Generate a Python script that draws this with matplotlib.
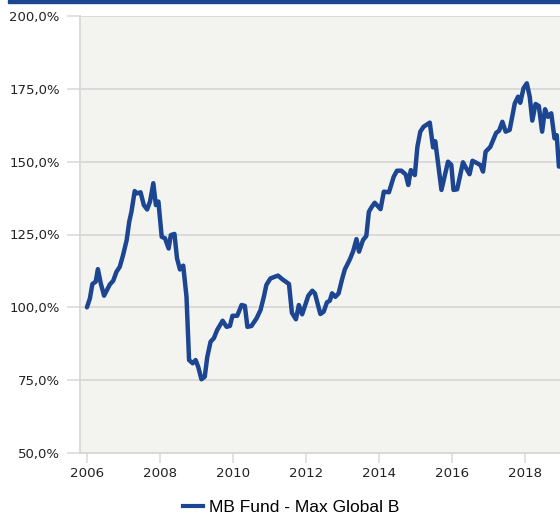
import matplotlib
matplotlib.use("Agg")
import matplotlib.pyplot as plt
from matplotlib.lines import Line2D
from matplotlib.patches import Rectangle

# ── Data ─────────────────────────────────────────────────────────────────────

years = [
    2006.00, 2006.08, 2006.15, 2006.24, 2006.30, 2006.38, 2006.47, 2006.63,
    2006.72, 2006.81, 2006.90, 2006.99, 2007.09, 2007.16, 2007.22, 2007.31,
    2007.38, 2007.47, 2007.56, 2007.65, 2007.73, 2007.82, 2007.89, 2007.96,
    2008.05, 2008.14, 2008.24, 2008.30, 2008.40, 2008.47, 2008.55, 2008.64,
    2008.73, 2008.80, 2008.90, 2008.98, 2009.05, 2009.14, 2009.23, 2009.30,
    2009.39, 2009.48, 2009.57, 2009.72, 2009.83, 2009.92, 2009.99, 2010.12,
    2010.24, 2010.33, 2010.40, 2010.51, 2010.65, 2010.76, 2010.85, 2010.92,
    2011.03, 2011.15, 2011.24, 2011.36, 2011.54, 2011.62, 2011.73, 2011.81,
    2011.90, 2011.99, 2012.07, 2012.18, 2012.25, 2012.40, 2012.49, 2012.58,
    2012.66, 2012.72, 2012.81, 2012.90, 2012.99, 2013.07, 2013.21, 2013.30,
    2013.39, 2013.46, 2013.57, 2013.66, 2013.73, 2013.80, 2013.89, 2014.05,
    2014.14, 2014.28, 2014.41, 2014.50, 2014.62, 2014.74, 2014.81, 2014.88,
    2014.99, 2015.06, 2015.14, 2015.23, 2015.40, 2015.49, 2015.55, 2015.72,
    2015.90, 2015.99, 2016.05, 2016.15, 2016.31, 2016.40, 2016.49, 2016.57,
    2016.68, 2016.79, 2016.86, 2016.93, 2017.06, 2017.22, 2017.30, 2017.39,
    2017.48, 2017.59, 2017.73, 2017.82, 2017.88, 2017.97, 2018.06, 2018.14,
    2018.21, 2018.30, 2018.39, 2018.48, 2018.56, 2018.64, 2018.73, 2018.82,
    2018.88, 2018.94,
]

values = [
    100.0, 103.0, 108.0, 108.8, 113.1, 108.2, 104.0, 107.9,
    109.1, 112.2, 113.9, 117.9, 123.1, 129.4, 132.8, 139.9,
    139.1, 139.5, 135.1, 133.6, 136.3, 142.6, 135.1, 136.3,
    124.2, 123.7, 120.2, 124.8, 125.2, 116.8, 113.0, 114.3,
    103.6, 81.9, 80.8, 81.9, 79.6, 75.3, 76.2, 83.0,
    88.2, 89.4, 92.2, 95.4, 93.3, 93.6, 97.1, 97.1,
    100.8, 100.5, 93.3, 93.6, 96.2, 99.1, 103.6, 107.7,
    109.9, 110.5, 110.9, 109.6, 108.0, 98.1, 95.9, 100.8,
    97.6, 101.0, 104.0, 105.7, 104.8, 97.7, 98.5, 101.7,
    102.3, 104.8, 103.6, 104.8, 109.4, 113.0, 116.5, 119.3,
    123.4, 119.1, 123.1, 124.5, 132.8, 134.3, 135.9, 133.7,
    139.7, 139.5, 144.8, 146.9, 146.9, 145.6, 142.0, 147.1,
    145.4, 155.1, 160.3, 162.0, 163.4, 154.9, 157.0, 140.3,
    150.0, 148.9, 140.3, 140.5, 149.8, 147.7, 145.7, 150.3,
    149.6, 148.8, 146.6, 153.4, 155.1, 159.9, 160.6, 163.7,
    160.3, 160.9, 170.0, 172.3, 170.2, 175.2, 176.9, 172.3,
    164.1, 169.8, 169.1, 160.3, 168.0, 165.4, 166.6, 158.0,
    159.1, 148.3,
]

series_name = "MB Fund - Max Global B"
x_ticks = [2006, 2008, 2010, 2012, 2014, 2016, 2018]
y_ticks = [50, 75, 100, 125, 150, 175, 200]

# ── Figure ───────────────────────────────────────────────────────────────────

navy = "#1c4592"
grid_col = "#d8d8d8"

fig = plt.figure(figsize=(5.6, 5.18), dpi=100)
ax = fig.add_axes([80 / 560, 1 - 453 / 518, 1 - 80 / 560, (453 - 16) / 518])
ax.set_facecolor("#f3f3ef")

# thin blue band across the very top
fig.patches.append(Rectangle((8 / 560, 1 - 3 / 518), 1, 3 / 518,
                             transform=fig.transFigure, color=navy, zorder=5))

ax.plot(years, values, color=navy, lw=3.2, solid_joinstyle="round",
        solid_capstyle="round", zorder=3)

ax.set_xlim(2005.81, 2018.97)
ax.set_ylim(50, 200)
ax.set_xticks(x_ticks)
ax.set_yticks(y_ticks)
ax.set_yticklabels([f"{v:.1f}".replace(".", ",") + "%" for v in y_ticks])

ax.yaxis.grid(True, color=grid_col, lw=1.3)
ax.set_axisbelow(True)
for side in ("top", "right"):
    ax.spines[side].set_visible(False)
for side in ("left", "bottom"):
    ax.spines[side].set_color(grid_col)
    ax.spines[side].set_linewidth(1.3)

ax.tick_params(axis="y", length=9.5, width=1.1, color=grid_col, pad=5,
               labelsize=9.5, labelcolor="#222222")
ax.tick_params(axis="x", length=7, width=1.1, color=grid_col, pad=3,
               labelsize=9.6, labelcolor="#222222")

handle = Line2D([], [], color=navy, lw=3)
fig.legend([handle], [series_name], loc="center",
           bbox_to_anchor=(0.52, 1 - 507 / 518), frameon=False,
           prop={"family": "Liberation Sans", "size": 12.5},
           handlelength=1.15, handletextpad=0.4)

fig.savefig("out.png", dpi=100)
